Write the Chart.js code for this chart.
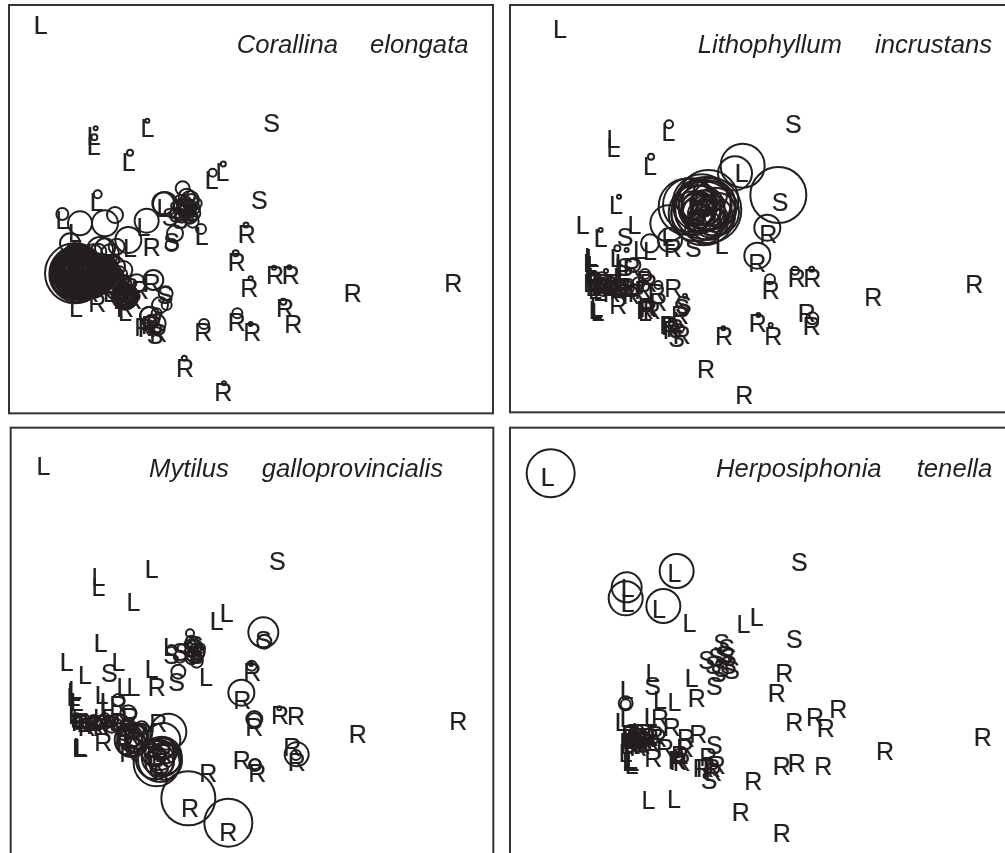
<!DOCTYPE html>
<html>
<head>
<meta charset="utf-8">
<title>Species abundance on ordination</title>
<script src="https://cdn.jsdelivr.net/npm/chart.js@4/dist/chart.umd.min.js"></script>
<style>
  html, body { margin: 0; background: #fff; overflow: hidden; width: 1005px; height: 853px; }
  canvas { position: absolute; }
</style>
</head>
<body>
<canvas id="coralChart" width="500" height="420" style="left:0;top:0"></canvas>
<canvas id="lithoChart" width="500" height="420" style="left:505px;top:0"></canvas>
<canvas id="mytilusChart" width="500" height="428" style="left:0;top:425px"></canvas>
<canvas id="herposChart" width="500" height="428" style="left:505px;top:425px"></canvas>
<script>
// site scores, [x, y], and bubbles [x, y, r]
const coralL = [[122,75],[442,385],[281,408],[281,438],[386,487],[635,540],[667,515],[290,605],[187,660],[605,708],[228,925],[375,935],[225,700],[390,745],[430,680],[490,625],[200,800],[215,850],[240,790],[260,860],[300,820],[330,880],[360,900]];
const coralS = [[815,370],[778,600],[515,725],[510,650],[540,660],[465,1005],[495,885],[560,620],[575,640],[530,630]];
const coralR = [[740,703],[710,785],[825,825],[872,825],[748,863],[1058,880],[1360,850],[855,925],[880,972],[710,965],[757,995],[610,995],[555,1105],[670,1175],[455,740],[292,910],[420,870],[455,850],[430,980],[475,1000],[320,840],[370,850],[400,900],[240,850],[280,800],[340,790],[440,985],[450,975],[375,925],[390,860],[300,860],[270,880],[235,820],[350,830]];
const coralBubbles = [[287,385,2],[283,412,3],[442,362,2],[390,458,3],[638,518,4],[670,492,2.5],[293,583,4],[187,642,6],[603,687,5],[738,675,2.5],[707,760,3],[822,803,2],[868,802,2],[752,835,2],[850,905,3],[712,940,5],[752,972,2],[612,972,5],[553,1075,2.5],[672,1150,2],
  [495,612,12],[490,610,11],[548,565,7],[440,662,12],[385,720,13],[525,700,8],[515,735,6],[560,590,8],[570,600,9],[555,610,7],[545,620,8],[580,640,7],[570,650,7],[560,630,9],[575,620,6],[540,600,5],[590,610,5],[530,645,7],[578,665,6],[545,650,6],[565,615,5],[555,630,5],[572,635,4],[585,625,5],[550,640,4],[565,655,5],[575,600,6],
  [240,670,12],[315,670,13],[345,645,8],[210,730,10],[300,750,13],[315,745,10],[295,755,8],[330,760,9],[350,740,8],[280,760,9],
  [225,820,30],[232,822,28],[236,824,27],[238,822,26],[240,822,25],[240,825,24],[242,820,23],[238,818,22],[240,815,21],[235,810,21],[240,810,20],[230,800,20],[232,795,19],[228,790,18],[235,785,17],[228,830,20],[230,825,18],[235,830,16],[225,815,15],[230,820,13],[235,815,11],[240,820,9],[230,810,7],[225,760,10],[215,770,9],[240,770,10],
  [222,822,24],[226,816,23],[232,828,22],[220,818,21],[228,812,19],[236,838,19],[244,830,20],[248,815,19],[216,826,18],[224,836,17],[242,800,17],[218,806,16],[250,835,16],[226,846,15],[212,816,14],[246,790,15],[236,852,13],[205,826,12],[215,842,11],[200,815,10],[228,800,12],[252,822,14],[258,810,13],[262,838,14],[232,842,11],[220,795,11],[242,845,10],[210,800,9],[225,855,9],[195,830,8],[190,810,7],[250,850,8],
  [270,830,20],[280,820,19],[275,840,18],[290,815,18],[295,830,17],[285,835,16],[280,810,15],[300,825,15],[310,810,14],[305,835,13],[270,810,16],[260,800,15],[285,795,12],[320,820,12],[330,830,11],[315,800,12],[345,800,10],[370,810,9],
  [265,820,17],[288,826,15],[298,812,13],[275,850,13],[290,845,12],[308,822,12],[262,855,11],[285,860,10],[318,838,10],[335,815,9],[300,850,10],[325,850,9],[340,840,9],[355,825,9],[310,790,9],[295,800,9],[275,795,10],
  [375,890,13],[378,888,12],[375,885,11],[380,892,10],[372,890,9],[378,885,8],[375,893,7],[380,890,6],[370,882,8],[385,880,6],[360,860,12],[345,850,11],[350,870,10],[410,850,9],[368,895,10],[385,895,9],[378,900,8],[365,880,6],[390,885,7],[372,875,7],[380,875,5],[370,900,5],
  [460,840,10],[497,880,7],[480,915,8],[500,915,5],[450,950,10],[470,970,9],[455,965,7],[470,940,5],[445,945,8],[465,985,6]];

const lithoL = [[165,88],[490,395],[325,418],[325,445],[435,497],[333,615],[710,520],[233,675],[388,675],[287,715],[335,775],[405,750],[435,752],[650,735],[490,712],[258,770],[262,775],[255,790],[258,800],[265,795],[262,815],[265,845],[262,860],[275,925],[272,930],[278,935],[350,790],[420,935],[268,830],[280,845],[295,850],[270,870],[285,875],[310,860],[255,850],[350,800],[355,815],[345,830]];
const lithoS = [[865,373],[825,605],[360,710],[565,745],[535,915],[515,1015],[600,620],[580,640],[360,800],[530,925]];
const lithoR = [[790,703],[757,790],[797,870],[875,835],[922,835],[1105,892],[1408,853],[905,938],[920,978],[758,968],[805,1008],[657,1008],[603,1108],[718,1185],[503,745],[505,865],[455,880],[460,905],[420,930],[440,930],[525,945],[490,975],[495,978],[510,985],[530,1005],[340,915],[378,885],[420,840],[350,860],[380,800],[300,860],[320,880],[270,850],[285,860],[300,850],[325,850],[340,870],[365,860],[395,880],[415,870],[430,850],[430,925],[425,920],[500,990]];
const lithoBubbles = [[492,373,4],[438,470,3],[342,590,2],[820,585,28],[713,497,22],[690,520,17],[787,683,13],[757,767,13],[795,838,5],[870,812,4],[920,808,2.5],[922,955,6],[760,945,2],[797,975,2],[655,985,2],[287,690,2],[337,745,3],[365,750,2],[303,813,2],[540,888,2],[535,930,5],[525,985,4],[420,822,5],[460,855,4],[385,795,7],
  [435,730,9],[495,720,12],[490,670,18],[545,620,28],[555,615,27],[610,600,30],[610,630,33],[600,625,31],[595,640,32],[590,610,29],[575,640,28],[605,615,25],[590,625,23],[585,620,21],[590,640,19],[580,625,17],[605,630,15],[595,610,13],[585,640,12],[600,625,8],[590,630,6],
  [565,640,22],[620,650,21],[570,600,19],[625,610,22],[610,660,20],[630,635,24],[600,680,17],[640,630,17],[615,585,17],[620,665,14],[570,620,13],[630,660,12],[560,630,10],[580,650,7],[605,600,5],
  [270,845,7],[285,850,6],[300,860,7],[320,850,6],[340,860,8],[350,870,6],[365,865,7],[385,870,6],[400,850,6],[270,830,5],[265,860,5],[280,865,5],[290,835,6],[310,845,6],[330,870,5],[275,855,6],[295,870,6],[315,865,5],[260,840,5]];

const mytilusL = [[130,122],[455,432],[295,455],[295,485],[400,532],[680,563],[650,587],[302,655],[200,710],[355,710],[255,750],[455,733],[618,755],[400,785],[370,785],[305,810],[225,795],[222,800],[230,830],[225,850],[220,815],[240,965],[243,968],[237,970],[510,665],[320,830],[225,870],[235,885],[250,895],[270,890],[300,880],[325,880],[320,850]];
const mytilusS = [[832,408],[790,645],[328,745],[530,770],[515,690],[540,680],[590,690],[570,670],[585,660]];
const mytilusR = [[757,740],[727,825],[763,905],[840,870],[888,873],[1073,927],[1375,888],[877,965],[890,1010],[725,1005],[772,1045],[625,1043],[570,1150],[685,1220],[470,787],[310,950],[475,895],[355,840],[390,875],[400,960],[470,1020],[485,1040],[480,1000],[385,985],[240,890],[260,905],[285,900],[305,905],[335,900],[355,890],[370,930],[395,935],[420,920],[375,955],[465,990],[490,985]];
const mytilusBubbles = [[790,622,15],[793,650,7],[755,722,5],[753,717,2],[724,803,13],[763,882,8],[763,885,7],[838,850,2],[890,988,12],[888,990,5],[765,1020,6],[765,1018,5],[565,1120,27],[685,1193,24],
  [570,625,4],[575,650,6],[590,680,8],[585,665,7],[580,690,7],[595,685,6],[515,675,5],[540,695,6],[590,710,6],[535,740,7],[545,670,4],[570,680,5],[580,660,6],[600,670,5],[575,700,6],[590,695,5],
  [505,920,18],[490,945,17],[480,1005,22],[470,1015,23],[490,1010,18],[480,990,15],[485,1015,12],[470,995,9],[490,970,11],[395,945,17],[400,940,14],[390,935,12],[405,950,10],[425,910,7],[385,865,8],[355,825,6],[430,925,9],[410,915,7],[380,900,6],
  [485,995,20],[465,1005,19],[495,1000,16],[460,990,11],[500,985,10],[390,955,13],[410,935,12],[400,960,8],[375,925,7],[395,920,7],
  [230,880,5],[245,890,6],[260,895,5],[280,885,5],[300,890,6],[320,895,5],[340,885,5],[230,900,4],[250,905,4],[270,905,4],[235,890,5],[255,880,4],[275,895,5],[295,900,5],[315,880,5],[335,905,6],[350,900,6],[365,890,7]];

const herposL = [[128,155],[508,445],[368,490],[368,535],[462,553],[553,593],[715,597],[755,575],[442,745],[560,758],[365,795],[350,890],[365,880],[508,830],[465,825],[437,875],[378,1005],[372,1010],[382,1012],[430,1125],[507,1122],[370,930],[365,960],[362,985],[380,1020],[385,945],[400,920]];
const herposS = [[883,412],[868,643],[650,655],[665,670],[605,705],[635,695],[660,690],[670,720],[650,730],[680,735],[640,745],[628,782],[443,782],[628,960],[612,1065],[655,690],[670,695],[625,720]];
const herposR = [[838,745],[815,805],[868,890],[930,875],[962,908],[1000,853],[1140,977],[1433,937],[575,820],[465,880],[500,905],[543,940],[580,928],[610,995],[635,1020],[590,1030],[600,1030],[620,1030],[625,1040],[515,1005],[520,1008],[530,1010],[445,1000],[480,970],[745,1068],[707,1160],[830,1225],[830,1023],[875,1015],[955,1023],[375,930],[390,945],[405,935],[420,950],[380,960],[400,965],[435,935],[450,930],[540,970],[378,940],[395,925],[410,960],[425,935],[385,950],[370,950],[440,955],[460,940],[400,945],[415,925],[525,990]];
const herposBubbles = [[137,145,24],[515,438,17],[365,487,15],[362,520,17],[475,543,17],[362,835,7],[362,838,5],[375,915,5],[390,925,6],[405,940,5],[380,945,6],[400,960,7],[415,950,5],[375,965,5],[395,935,4],[520,985,4],[385,935,5],[410,930,4],[395,950,6],[420,965,5]];

const coralWords = ['Corallina', 'elongata'], coralWordX = [710, 1110];
const lithoWords = ['Lithophyllum', 'incrustans'], lithoWordX = [578, 1110];
const mytilusWords = ['Mytilus', 'galloprovincialis'], mytilusWordX = [447, 785];
const herposWords = ['Herposiphonia', 'tenella'], herposWordX = [633, 1235];

const INK = '#231f20';

// draws the site letters, the species name and the panel frame
const panelText = {
    id: 'panelText',
    afterDatasetsDraw(chart, args, opts) {
        const ctx = chart.ctx;
        const sx = chart.scales.x, sy = chart.scales.y;
        ctx.save();
        ctx.fillStyle = INK;
        ctx.strokeStyle = INK;
        ctx.lineWidth = 0.2;
        ctx.textAlign = 'center';
        ctx.textBaseline = 'middle';
        ctx.font = '25px "Liberation Sans"';
        chart.data.datasets.forEach((ds, i) => {
            if (!ds.letter) return;
            chart.getDatasetMeta(i).data.forEach(pt => {
                // caps sit a little above the em-box middle
                ctx.fillText(ds.letter, pt.x, pt.y + 2);
                ctx.strokeText(ds.letter, pt.x, pt.y + 2);
            });
        });
        ctx.textAlign = 'left';
        ctx.textBaseline = 'alphabetic';
        ctx.font = 'italic 25.7px "Liberation Sans"';
        opts.words.forEach((w, i) => ctx.fillText(w, sx.getPixelForValue(opts.wordX[i]), sy.getPixelForValue(opts.wordY)));
        const f = opts.frame;
        ctx.strokeStyle = '#333';
        ctx.lineWidth = 2;
        ctx.strokeRect(sx.getPixelForValue(f[0]), sy.getPixelForValue(f[1]),
            sx.getPixelForValue(f[2]) - sx.getPixelForValue(f[0]), sy.getPixelForValue(f[3]) - sy.getPixelForValue(f[1]));
        ctx.restore();
    }
};

function letterSet(letter, points) {
    return {
        letter: letter,
        data: points.map(p => ({ x: p[0], y: p[1], r: 0 })),
        borderWidth: 0,
        backgroundColor: 'transparent',
        borderColor: 'transparent'
    };
}

function drawPanel(id, L, S, R, bubbles, words, wordX, wordY, frame) {
    const canvas = document.getElementById(id);
    new Chart(canvas, {
        type: 'bubble',
        data: {
            datasets: [
                {
                    label: 'abundance',
                    data: bubbles.map(b => ({ x: b[0], y: b[1], r: b[2] })),
                    backgroundColor: 'transparent',
                    borderColor: INK,
                    borderWidth: 2
                },
                letterSet('L', L),
                letterSet('S', S),
                letterSet('R', R)
            ]
        },
        options: {
            responsive: false,
            animation: false,
            events: [],
            layout: { padding: 0, autoPadding: false },
            clip: false,
            scales: {
                x: { type: 'linear', display: false, min: 0, max: canvas.width * 3 },
                y: { type: 'linear', display: false, min: 0, max: canvas.height * 3, reverse: true }
            },
            plugins: {
                legend: { display: false },
                tooltip: { enabled: false },
                panelText: { words: words, wordX: wordX, wordY: wordY, frame: frame }
            }
        },
        plugins: [panelText]
    });
}

drawPanel('coralChart', coralL, coralS, coralR, coralBubbles, coralWords, coralWordX, 158, [27, 15, 1479, 1240]);
drawPanel('lithoChart', lithoL, lithoS, lithoR, lithoBubbles, lithoWords, lithoWordX, 158, [15, 15, 1530, 1237]);
drawPanel('mytilusChart', mytilusL, mytilusS, mytilusR, mytilusBubbles, mytilusWords, mytilusWordX, 155, [32, 8, 1480, 1320]);
drawPanel('herposChart', herposL, herposS, herposR, herposBubbles, herposWords, herposWordX, 155, [15, 8, 1530, 1320]);
</script>
</body>
</html>
